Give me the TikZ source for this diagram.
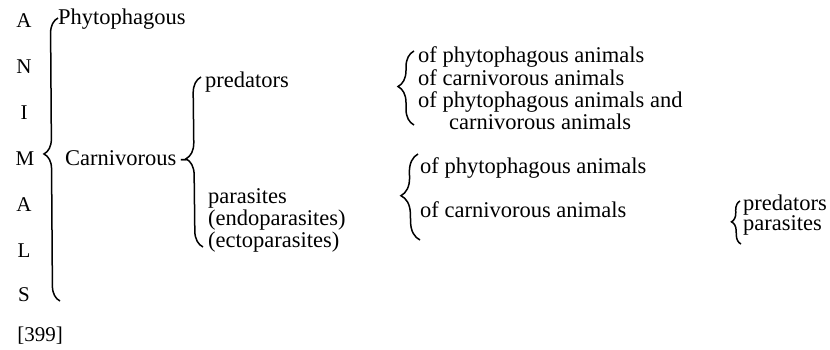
\documentclass[tikz,border=0pt]{standalone}
\usepackage{fontspec}
\setmainfont{Liberation Serif}
\usetikzlibrary{decorations.pathreplacing}
\newcommand{\lines}[2]{{\fontsize{22.5}{#1}\selectfont\begin{tabular}[t]{@{}l@{}}#2\end{tabular}}}

\begin{document}
\begin{tikzpicture}[x=1pt, y=-1pt,
    lbl/.style={anchor=base west, inner sep=0pt, font=\fontsize{22.5}{22.5}\selectfont},
    letter/.style={anchor=base, inner sep=0pt, font=\fontsize{21}{21}\selectfont},
    curly/.style={decorate, decoration={brace, amplitude=#1, aspect=0.52}, line width=1.5pt}]
    \useasboundingbox (0,0) rectangle (830,350);

    % ANIMALS
    \node[letter] (lA) at (24,28) {A};
    \node[letter] (lN) at (24,74) {N};
    \node[letter] (lI) at (24,120) {I};
    \node[letter] (lM) at (25,165) {M};
    \node[letter] (lA2) at (24,211) {A};
    \node[letter] (lL) at (24,257) {L};
    \node[letter] (lS) at (24,301) {S};
    \node[letter] (page) at (40,341) {[399]};

    \coordinate (b1top) at (58,18);
    \coordinate (b1bot) at (60,301);
    \draw[curly=15pt] (b1bot) -- (b1top);

    \node[lbl] (phyto) at (58,25) {Phytophagous};
    \node[lbl] (carni) at (65,165) {Carnivorous};
    \node[lbl] (cdash) at (180,165) {-};

    % predators / parasites
    \coordinate (b2top) at (201,77);
    \coordinate (b2bot) at (203,247);
    \draw[curly=16pt] (b2bot) -- (b2top);

    \node[lbl] (pred) at (205,88) {predators};
    \node[lbl] (para) at (208,204)
        {\lines{20pt}{parasites\\(endoparasites)\\(ectoparasites)}};

    % prey of predators
    \coordinate (b3top) at (414,51);
    \coordinate (b3bot) at (414,125);
    \draw[curly=16pt] (b3bot) -- (b3top);

    \node[lbl] (prey) at (418,63)
        {\lines{21pt}{of phytophagous animals\\of carnivorous animals\\
        of phytophagous animals and\\\hspace{31pt}carnivorous animals}};

    % hosts of parasites
    \coordinate (b4top) at (418,154);
    \coordinate (b4bot) at (420,240);
    \draw[curly=18pt] (b4bot) -- (b4top);

    \node[lbl] (host1) at (420,173) {of phytophagous animals};
    \node[lbl] (host2) at (420,217) {of carnivorous animals};

    % hyperparasites
    \coordinate (b5top) at (740,201);
    \coordinate (b5bot) at (741,244);
    \draw[curly=9pt] (b5bot) -- (b5top);

    \node[lbl] (hyper) at (743,210) {\lines{18pt}{predators\\parasites}};
\end{tikzpicture}
\end{document}
